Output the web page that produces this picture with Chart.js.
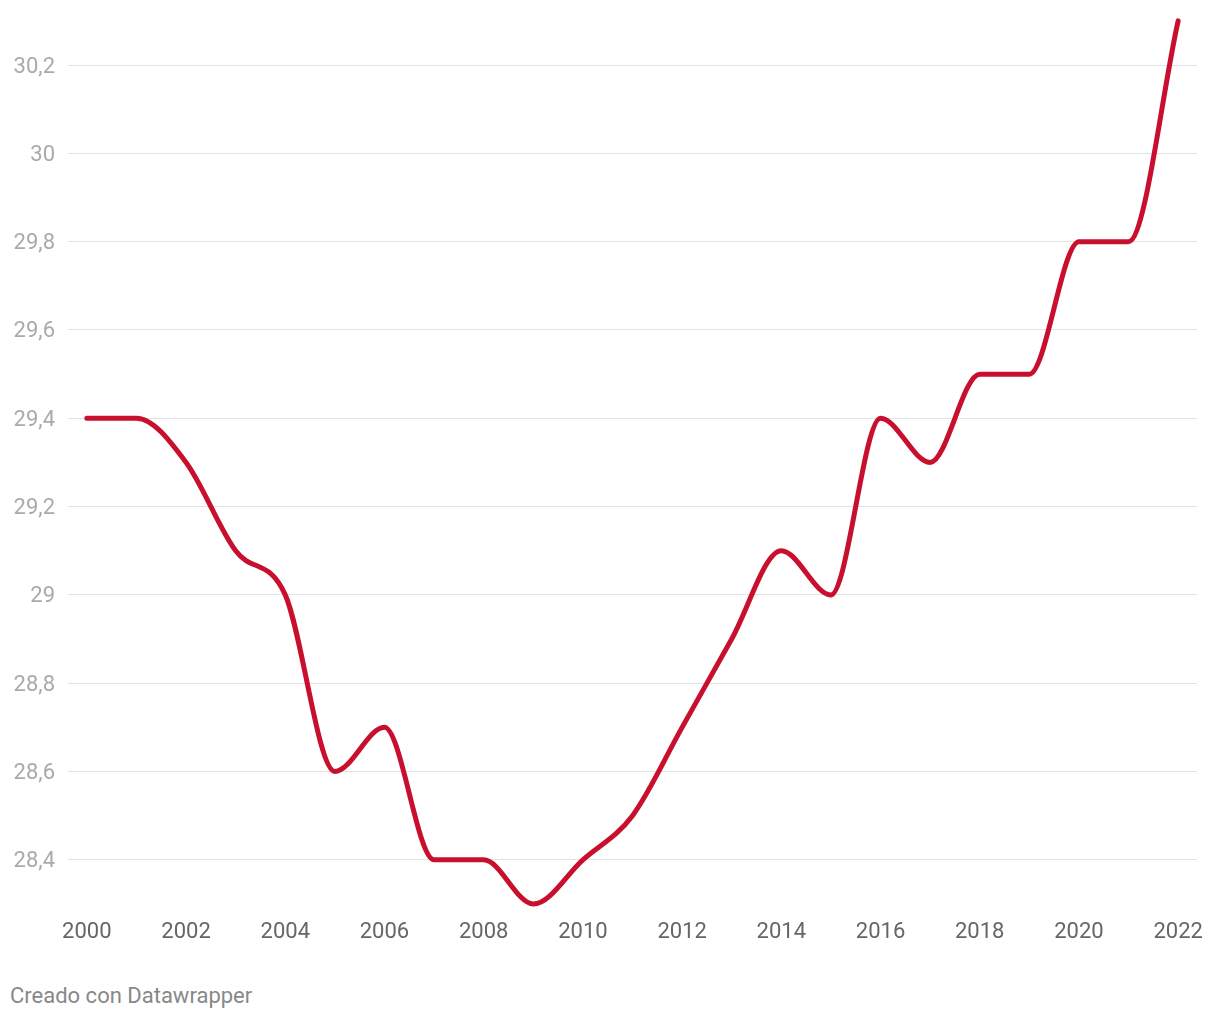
<!DOCTYPE html>
<html>
<head>
<meta charset="utf-8">
<script src="https://cdn.jsdelivr.net/npm/chart.js@4.4.1/dist/chart.umd.min.js"></script>
<style>
    body { margin: 0; background: #fff; font-family: Roboto, sans-serif; }
    .wrap { position: relative; width: 1220px; height: 960px; }
    .credit { position: absolute; left: 10px; top: 983px; font-size: 22px; color: #888; }
</style>
</head>
<body>
<div class="wrap"><canvas id="chart"></canvas></div>
<div class="credit">Creado con Datawrapper</div>
<script>
const years = [2000, 2001, 2002, 2003, 2004, 2005, 2006, 2007, 2008, 2009, 2010, 2011,
    2012, 2013, 2014, 2015, 2016, 2017, 2018, 2019, 2020, 2021, 2022];
const values = [29.4, 29.4, 29.3, 29.1, 29.0, 28.6, 28.7, 28.4, 28.4, 28.3, 28.4, 28.5,
    28.7, 28.9, 29.1, 29.0, 29.4, 29.3, 29.5, 29.5, 29.8, 29.8, 30.3];
const xTicks = [2000, 2002, 2004, 2006, 2008, 2010, 2012, 2014, 2016, 2018, 2020, 2022];
const yTicks = [28.4, 28.6, 28.8, 29.0, 29.2, 29.4, 29.6, 29.8, 30.0, 30.2];

const points = years.map((y, i) => ({ x: y, y: values[i] }));

new Chart(document.getElementById('chart').getContext('2d'), {
    type: 'line',
    data: {
        datasets: [{
            data: points,
            borderColor: '#c8102e',
            borderWidth: 5,
            pointRadius: 0,
            cubicInterpolationMode: 'monotone',
            borderCapStyle: 'round',
            clip: false,
            fill: false
        }]
    },
    options: {
        responsive: true,
        maintainAspectRatio: false,
        animation: false,
        layout: { padding: { top: 10, right: 23, left: 0, bottom: 0 } },
        plugins: { legend: { display: false }, tooltip: { enabled: false } },
        scales: {
            x: {
                type: 'linear',
                min: 1999.62,
                max: 2022.38,
                afterBuildTicks: scale => { scale.ticks = xTicks.map(v => ({ value: v })); },
                afterFit: scale => { scale.height = 45; },
                grid: { display: false, drawTicks: false },
                border: { display: false },
                ticks: {
                    padding: 4,
                    color: '#666',
                    font: { family: 'Roboto', size: 22 },
                    maxRotation: 0,
                    autoSkip: false,
                    callback: v => String(v)
                }
            },
            y: {
                min: 28.275,
                max: 30.288,
                afterBuildTicks: scale => { scale.ticks = yTicks.map(v => ({ value: v })); },
                afterFit: scale => { scale.width = 68; },
                grid: { color: '#e2e2e2', lineWidth: 1, drawTicks: false },
                border: { display: false },
                ticks: {
                    padding: 13,
                    labelOffset: 2,
                    color: '#aaa',
                    font: { family: 'Roboto', size: 22 },
                    callback: v => String(Math.round(v * 10) / 10).replace('.', ',')
                }
            }
        }
    }
});
</script>
</body>
</html>
